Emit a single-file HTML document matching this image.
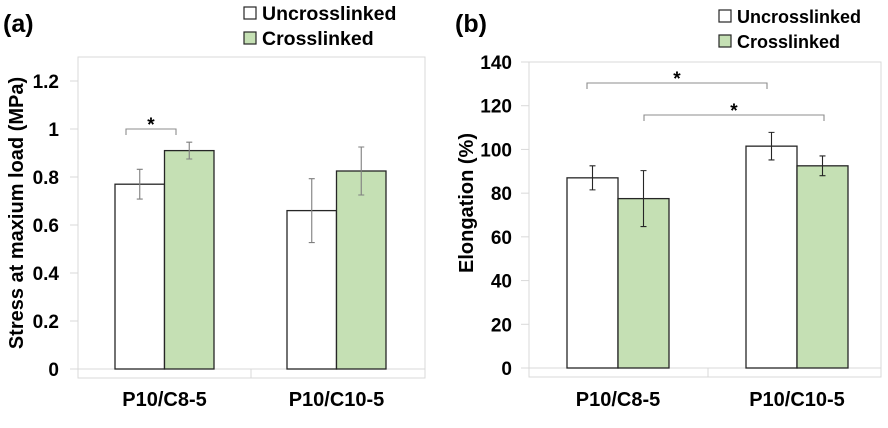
<!DOCTYPE html>
<html><head><meta charset="utf-8"><style>
html,body{margin:0;padding:0;background:#fff;width:888px;height:428px;overflow:hidden}
svg{display:block;font-family:"Liberation Sans",sans-serif;font-weight:bold}
</style></head><body>
<svg id="s" width="888" height="428" viewBox="0 0 888 428"></svg>
<script>
const categories = ["P10/C8-5", "P10/C10-5"];
const seriesNames = ["Uncrosslinked", "Crosslinked"];
const stressUn = [0.77, 0.66];
const stressUnErr = [0.062, 0.133];
const stressCr = [0.91, 0.825];
const stressCrErr = [0.035, 0.1];
const elongUn = [87, 101.5];
const elongUnErr = [5.5, 6.3];
const elongCr = [77.5, 92.5];
const elongCrErr = [12.8, 4.5];
const stressTicks = [0, 0.2, 0.4, 0.6, 0.8, 1, 1.2];
const elongTicks = [0, 20, 40, 60, 80, 100, 120, 140];

const NS = "http://www.w3.org/2000/svg";
const svg = document.getElementById("s");
function mk(tag, attrs, parent, text) {
  const e = document.createElementNS(NS, tag);
  for (const k in attrs) e.setAttribute(k, attrs[k]);
  if (text !== undefined) e.textContent = text;
  (parent || svg).appendChild(e);
  return e;
}

function chart(cfg) {
  const g = mk("g", {});
  
  
  const y = v => cfg.y0 - (v - 0) / (cfg.yTop - 0) * (cfg.y0 - cfg.top);
  const fr = mk("rect", {x: cfg.left, y: cfg.top, width: cfg.right - cfg.left, height: cfg.y0 - cfg.top + 9, fill: "none", stroke: "#d9d9d9", "stroke-width": 1}, g);
  
  
  const bl = mk("line", {x1: cfg.left - 8, x2: cfg.right, y1: cfg.y0, y2: cfg.y0, stroke: "#d9d9d9", "stroke-width": 1}, g);
  
  
  const dv = mk("line", {x1: cfg.divider, x2: cfg.divider, y1: cfg.y0, y2: cfg.y0 + 9, stroke: "#d9d9d9"}, g);
  
  
  cfg.ticks.forEach(t => {
    const tm = mk("line", {x1: cfg.left - 8, x2: cfg.left, y1: y(t), y2: y(t), stroke: "#d9d9d9"}, g);
    
    
    const tl = mk("text", {x: cfg.tickX, y: y(t) + 7, "text-anchor": "end", "font-size": 19, fill: "#000"}, g, String(t));
    
    
  });
  const series = [[cfg.un, cfg.unErr, "#fff"], [cfg.cr, cfg.crErr, "#c5e0b4"]];
  categories.forEach((c, i) => {
    series.forEach((s, j) => {
      const x = cfg.barX[i] + j * cfg.bw;
      const b = mk("rect", {x: x, y: y(s[0][i]), width: cfg.bw, height: cfg.y0 - y(s[0][i]), fill: s[2], stroke: "#262626", "stroke-width": 1.3}, g);
      
      
      const cx = x + cfg.bw / 2, hi = y(s[0][i] + s[1][i]), lo = y(s[0][i] - s[1][i]);
      const eb = mk("path", {d: `M${cx},${hi}V${lo}M${cx - 3},${hi}H${cx + 3}M${cx - 3},${lo}H${cx + 3}`, stroke: cfg.errColor, "stroke-width": 1.1, fill: "none"}, g);
      
      
    });
    const cl = mk("text", {x: cfg.barX[i] + cfg.bw, y: 406, "text-anchor": "middle", "font-size": 20, fill: "#000"}, g, c);
    
    
  });
  const yt = mk("text", {x: 0, y: 0, transform: `translate(${cfg.titleX},${cfg.titleY}) rotate(-90)`, "text-anchor": "middle", "font-size": 20, fill: "#000"}, g, cfg.yTitle);
  
  
  const pl = mk("text", {x: cfg.panelX, y: 32, "font-size": 25, fill: "#000"}, g, cfg.panel);
  
  
  seriesNames.forEach((n, j) => {
    const ly = cfg.legY + j * 25;
    const lb = mk("rect", {x: cfg.legX, y: ly, width: 12, height: 12, fill: j ? "#c5e0b4" : "#fff", stroke: "#262626", "stroke-width": 1.2}, g);
    
    
    const lt = mk("text", {x: cfg.legX + 18, y: ly + 13, "font-size": cfg.legFont, fill: "#000"}, g, n);
    
    
  });
  cfg.brackets.forEach(br => {
    const p = mk("path", {d: `M${br[0]},${br[2] + 6}V${br[2]}H${br[1]}V${br[2] + 6}`, stroke: "#8c8c8c", "stroke-width": 1.1, fill: "none"}, g);
    
    
    const st = mk("text", {x: (br[0] + br[1]) / 2, y: br[2] + 2, "text-anchor": "middle", "font-size": 19, fill: "#000"}, g, "*");
    
    
  });
}

chart({name: "stress-chart", left: 78, right: 425, top: 57, y0: 369, yTop: 1.3,
  ticks: stressTicks, tickX: 59, un: stressUn, unErr: stressUnErr, cr: stressCr, crErr: stressCrErr,
  barX: [115, 287], bw: 49.5, divider: 251, errColor: "#7f7f7f",
  yTitle: "Stress at maxium load (MPa)", titleX: 23, titleY: 213,
  panel: "(a)", panelX: 3, legX: 244, legY: 7, legFont: 19.5,
  brackets: [[126, 176, 129]]});

chart({name: "elongation-chart", left: 529, right: 881, top: 62, y0: 368, yTop: 140,
  ticks: elongTicks, tickX: 512, un: elongUn, unErr: elongUnErr, cr: elongCr, crErr: elongCrErr,
  barX: [567, 746], bw: 51, divider: 708, errColor: "#262626",
  yTitle: "Elongation (%)", titleX: 473, titleY: 203,
  panel: "(b)", panelX: 455, legX: 719, legY: 10, legFont: 18,
  brackets: [[587, 767, 83], [644, 824, 115]]});
</script>
</body></html>
